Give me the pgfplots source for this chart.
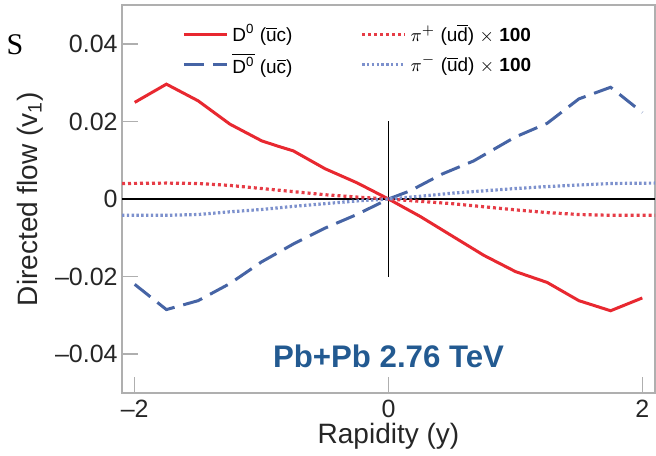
\documentclass[border=0pt]{standalone}
\usepackage{pgfplots}
\pgfplotsset{compat=1.18}
\usepackage{fontspec}
\setmainfont{Liberation Sans}
\newfontfamily\seriffont{Liberation Serif}

\definecolor{dred}{RGB}{232,40,48}
\definecolor{dblue}{RGB}{70,100,165}
\definecolor{pired}{RGB}{230,60,70}
\definecolor{piblue}{RGB}{125,145,205}
\definecolor{titleblue}{RGB}{35,90,145}
\definecolor{framegray}{RGB}{175,175,175}

\begin{document}
\begin{tikzpicture}
\begin{axis}[
    scale only axis,
    width=266.5pt, height=194pt,
    xmin=-2.1, xmax=2.1,
    ymin=-0.05, ymax=0.05,
    axis line style={framegray, line width=1pt},
    tick style={framegray, line width=0.8pt},
    tick align=inside,
    major tick length=8pt,
    xtick={-2,0,2},
    xticklabels={\textendash2,0,2},
    ytick={-0.04,-0.02,0,0.02,0.04},
    yticklabels={\textendash0.04,\textendash0.02,0,0.02,0.04},
    xtick pos=bottom, ytick pos=left,
    ticklabel style={font=\fontsize{12.5}{14}\selectfont, text=black!85},
    yticklabel style={inner sep=1pt, xshift=-1pt},
    xlabel={Rapidity (y)},
    ylabel={Directed flow (v\textsubscript{1})},
    label style={font=\fontsize{14}{16}\selectfont, text=black!85},
    xlabel style={at={(axis description cs:0.5,0)}, anchor=center, yshift=-21.5pt},
    ylabel style={at={(axis description cs:-0.1726,0.5)}, anchor=center},
    legend columns=2,
    legend style={at={(axis description cs:0.1126,0.962)}, anchor=north west,
        draw=none, fill=none, inner sep=0pt,
        font=\fontsize{9.5}{11}\selectfont,
        row sep=0pt,
        /tikz/every even column/.append style={column sep=32pt}},
    legend cell align=left,
    legend image code/.code={\draw[#1] (0pt,0pt) -- (21.5pt,0pt);},
    clip=true,
]
% reference lines
\addplot[black, line width=0.6pt, forget plot] coordinates {(-2.1,0) (2.1,0)};
\addplot[black, line width=0.6pt, forget plot] coordinates {(0,-0.02) (0,0.02)};

\addplot[dred, line width=1.5pt] coordinates {
(-2.0,0.0249) (-1.75,0.0296) (-1.5,0.0253) (-1.25,0.0193) (-1.0,0.0150)
(-0.88,0.0137) (-0.75,0.0124) (-0.5,0.0078) (-0.25,0.0042) (0,0)
(0.25,-0.0045) (0.5,-0.0095) (0.75,-0.0145) (1.0,-0.0187) (1.25,-0.0215)
(1.5,-0.0262) (1.75,-0.0288) (2.0,-0.0255)};

\addplot[pired, line width=1.6pt, dash pattern=on 1.5pt off 1.5pt] coordinates {
(-2.1,0.0040) (-1.75,0.0041) (-1.5,0.0040) (-1.25,0.0035) (-1.0,0.0027)
(-0.75,0.0019) (-0.5,0.0011) (-0.25,0.0005) (0,0) (0.25,-0.0006)
(0.5,-0.0012) (0.75,-0.0020) (1.0,-0.0028) (1.25,-0.0035) (1.5,-0.0040)
(1.75,-0.0042) (2.1,-0.0042)};

\addplot[dblue, line width=1.5pt, dash pattern=on 10pt off 4.5pt] coordinates {
(-2.0,-0.0220) (-1.75,-0.0285) (-1.5,-0.0262) (-1.25,-0.0218) (-1.0,-0.0162)
(-0.75,-0.0116) (-0.5,-0.0075) (-0.25,-0.0040) (0,0) (0.17,0.0021)
(0.42,0.0064) (0.67,0.0098) (1.0,0.0160) (1.25,0.0195) (1.5,0.0258)
(1.75,0.0288) (2.0,0.0223)};

\addplot[piblue, line width=1.6pt, dash pattern=on 1.2pt off 1.2pt] coordinates {
(-2.1,-0.0042) (-1.75,-0.0042) (-1.5,-0.0040) (-1.25,-0.0033) (-1.0,-0.0027)
(-0.75,-0.0019) (-0.5,-0.0012) (-0.25,-0.0005) (0,0) (0.25,0.0007)
(0.5,0.0015) (0.75,0.0021) (1.0,0.0027) (1.25,0.0032) (1.5,0.0036)
(1.75,0.0040) (2.1,0.0041)};

\legend{
  D\textsuperscript{0} ($\overline{\mbox{u}}$c),
  $\pi^{+}$ (u$\overline{\mbox{d}}$) $\times$ \textbf{100},
  $\overline{\mbox{D\textsuperscript{0}}}$ (u$\overline{\mbox{c}}$),
  $\pi^{-}$ ($\overline{\mbox{u}}$d) $\times$ \textbf{100}}

\node[font=\fontsize{15.6}{18}\selectfont\bfseries, text=titleblue]
  at (axis cs:0,-0.0405) {Pb+Pb 2.76 TeV};
\end{axis}
\node[font=\seriffont\fontsize{15}{18}\selectfont, anchor=center]
  at ([xshift=-53.5pt,yshift=-20pt]current axis.north west) {S};
\pgfresetboundingbox
\path ([xshift=-61pt,yshift=-31pt]current axis.south west)
  rectangle ([xshift=0.5pt,yshift=2.5pt]current axis.north east);
\end{tikzpicture}
\end{document}
